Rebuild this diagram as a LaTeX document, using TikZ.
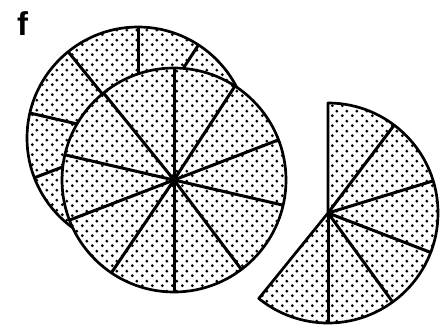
\documentclass[tikz,border=0pt]{standalone}
\usepackage{fontspec}
\setmainfont{Liberation Sans}
\usetikzlibrary{patterns.meta}
\tikzdeclarepattern{
  name=stipple,
  type=uncolored,
  bottom left={(0pt,0pt)},
  top right={(10pt,10pt)},
  tile size={(10pt,10pt)},
  code={
    \fill (2.5pt,2.5pt) circle (1.65pt);
    \fill (7.5pt,7.5pt) circle (1.65pt);
  }
}
\tikzset{
  disc/.style={line width=2.7pt, line join=round, preaction={fill=white}, pattern=stipple, pattern color=black},
  spoke/.style={line width=3pt},
}
\begin{document}
\begin{tikzpicture}[x=1pt,y=-1pt]
\useasboundingbox (0,0) rectangle (442,327);
\node[font=\fontsize{33}{33}\selectfont\bfseries, anchor=base west, inner sep=0pt] (label) at (17,35) {f};
% back disc
\begin{scope}[shift={(138,138)}, yscale=-1]
  \draw[disc] (0,0) circle (111);
  \foreach \a in {90,57,21,-13,-53,-90,-124,-159,167,129}
    \draw[spoke] (0,0) -- (\a:111);
\end{scope}
% front disc
\begin{scope}[shift={(174,180)}, yscale=-1]
  \draw[disc] (0,0) circle (112);
  \foreach \a in {90,57,21,-13,-53,-90,-124,-159,167,129}
    \draw[spoke] (0,0) -- (\a:112);
\end{scope}
% rearranged partial disc
\begin{scope}[shift={(328,213)}, yscale=-1]
  \draw[disc] (0,0) -- (90:110) arc[start angle=90, end angle=-129, radius=110] -- cycle;
  \foreach \a in {53,17,-21,-54,-90}
    \draw[spoke] (0,0) -- (\a:110);
\end{scope}
\end{tikzpicture}
\end{document}
